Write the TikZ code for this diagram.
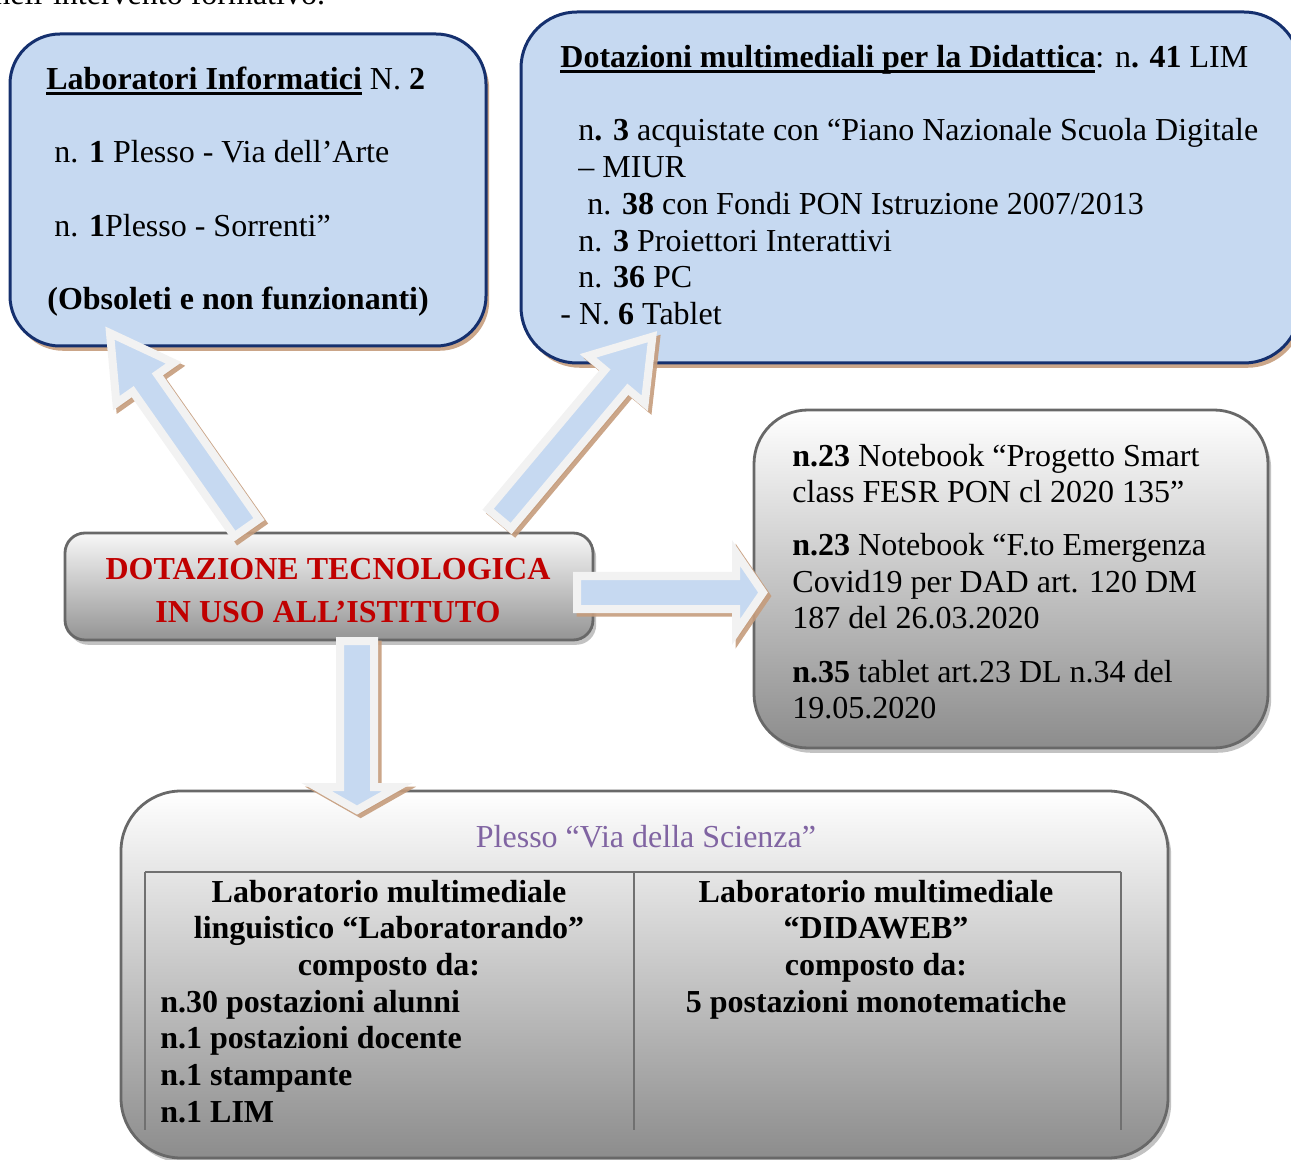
\documentclass[tikz,border=0pt]{standalone}
\usepackage{fontspec}
\setmainfont{Liberation Serif}
\usetikzlibrary{shadows,calc}

\definecolor{boxblue}{HTML}{C6D9F1}
\definecolor{navy}{HTML}{15306E}
\definecolor{tanshadow}{HTML}{C59C7C}
\definecolor{arrowrim}{HTML}{F2F2F2}
\definecolor{rimgray}{HTML}{686868}
\definecolor{titlered}{HTML}{C00000}
\definecolor{plumtext}{HTML}{8064A2}
\definecolor{greyshadow}{HTML}{9A9A9A}
\definecolor{rulegray}{HTML}{707070}

% underline that runs straight through descenders
\newcommand\undl[1]{\setbox0\hbox{#1}\rlap{\rule[-2.4pt]{\wd0}{1.2pt}}\box0\relax}

% block arrow from coordinate #1 (tail) to #2 (tip);
% #3 shaft width, #4 head width, #5 head length, all in px (0.5pt)
\newcommand\blockarrow[5]{%
  \path let \p1=(#1), \p2=(#2) in \pgfextra{%
    \pgfmathsetmacro\arrAng{atan2(\y2-\y1,\x2-\x1)}\global\let\arrAng\arrAng
    \pgfmathsetmacro\arrLen{veclen(\x2-\x1,\y2-\y1)}\global\let\arrLen\arrLen};
  \pgfmathsetmacro\arrNeck{\arrLen-0.5*#5}%
  \pgfmathsetmacro\arrShaft{0.25*#3}%
  \pgfmathsetmacro\arrHead{0.25*#4}%
  \begin{scope}[shift={(#1)}, xshift=1.8pt, yshift=-1.8pt, rotate=\arrAng]
    \path[arrshade] (0pt,-\arrShaft pt) -- (\arrNeck pt,-\arrShaft pt) -- (\arrNeck pt,-\arrHead pt)
      -- (\arrLen pt,0pt) -- (\arrNeck pt,\arrHead pt) -- (\arrNeck pt,\arrShaft pt) -- (0pt,\arrShaft pt) -- cycle;
  \end{scope}
  \begin{scope}[shift={(#1)}, rotate=\arrAng]
    \path[arrbody] (0pt,-\arrShaft pt) -- (\arrNeck pt,-\arrShaft pt) -- (\arrNeck pt,-\arrHead pt)
      -- (\arrLen pt,0pt) -- (\arrNeck pt,\arrHead pt) -- (\arrNeck pt,\arrShaft pt) -- (0pt,\arrShaft pt) -- cycle;
  \end{scope}}

\tikzset{
  bluebox/.style={draw=navy, line width=1.5pt, fill=boxblue, rounded corners=#1,
    drop shadow={shadow xshift=1.6pt, shadow yshift=-2.4pt, fill=tanshadow, opacity=.9}},
  bluebox/.default=25pt,
  greybox/.style={draw=rimgray, line width=1.4pt, top color=white, bottom color=black!45,
    rounded corners=#1,
    drop shadow={shadow xshift=1.6pt, shadow yshift=-2.4pt, fill=greyshadow, opacity=.6}},
  greybox/.default=27pt,
  arrbody/.style={fill=boxblue, draw=arrowrim, line width=4pt, line join=miter, miter limit=10},
  arrshade/.style={fill=tanshadow, draw=tanshadow, line width=4pt, line join=miter, miter limit=10, opacity=.9},
  txt/.style={inner sep=0pt, anchor=base west, font=\fontsize{16}{18.4}\selectfont},
  ctxt/.style={txt, anchor=base},
  btxt/.style={txt, font=\fontsize{16}{18.4}\selectfont\bfseries},
  cbtxt/.style={btxt, anchor=base},
  tablerule/.style={draw=rulegray, line width=1pt},
}

\begin{document}
\begin{tikzpicture}[x=0.5pt, y=-0.5pt]
\useasboundingbox (0,0) rectangle (1291,1160);
\clip (0,0) rectangle (1291,1160);

% line of running text above the diagram
\node[txt] (prev) at (-6,5) {nell’intervento formativo.};

% boxes
\node[bluebox, minimum width=238pt, minimum height=156pt] (lab) at (248,190) {};
\node[bluebox=28pt, minimum width=389.5pt, minimum height=175.5pt] (lim) at (910.5,187.5) {};
\node[greybox, minimum width=257pt, minimum height=169pt] (note) at (1011,579) {};
\node[greybox=10pt, minimum width=264pt, minimum height=53.5pt, bottom color=black!42, top color=black!3] (dot) at (329,586.5) {};
\node[greybox=30pt, minimum width=523.5pt, minimum height=183.5pt] (sci) at (644.5,974.5) {};

% computer labs
\node[txt] (lab1) at (46,90) {\undl{\textbf{Laboratori Informatici}} N. \textbf{2}};
\node[txt] (lab2) at (54,163) {n. \textbf{1} Plesso - Via dell’Arte};
\node[txt] (lab3) at (54,237) {n. \textbf{1}Plesso - Sorrenti”};
\node[btxt] (lab4) at (47,310) {(Obsoleti e non funzionanti)};

% multimedia equipment
\node[txt] (lim1) at (560,68) {\undl{\textbf{Dotazioni multimediali per la Didattica}}: n\textbf{. 41} LIM};
\node[txt] (lim2) at (578,141) {n\textbf{. 3} acquistate con “Piano Nazionale Scuola Digitale};
\node[txt] (lim3) at (578,178) {– MIUR};
\node[txt] (lim4) at (587,215) {n. \textbf{38} con Fondi PON Istruzione 2007/2013};
\node[txt] (lim5) at (578,252) {n. \textbf{3} Proiettori Interattivi};
\node[txt] (lim6) at (578,288) {n. \textbf{36} PC};
\node[txt] (lim7) at (560,325) {- N. \textbf{6} Tablet};

% notebooks and tablets
\node[txt] (nb1) at (792,467) {\textbf{n.23} Notebook “Progetto Smart};
\node[txt] (nb2) at (792,503) {class FESR PON cl 2020 135”};
\node[txt] (nb3) at (792,555) {\textbf{n.23} Notebook “F.to Emergenza};
\node[txt] (nb4) at (792,592) {Covid19 per DAD art. 120 DM};
\node[txt] (nb5) at (792,628) {187 del 26.03.2020};
\node[txt] (nb6) at (792,682) {\textbf{n.35} tablet art.23 DL n.34 del};
\node[txt] (nb7) at (792,718) {19.05.2020};

% central title
\node[cbtxt, text=titlered] (title1) at (328,580) {DOTAZIONE TECNOLOGICA};
\node[cbtxt, text=titlered] (title2) at (328,622) {IN USO ALL’ISTITUTO};

% Via della Scienza building
\node[ctxt, text=plumtext] (sci0) at (646,847) {Plesso “Via della Scienza”};
\draw[tablerule] (145,872) -- (1121,872);
\draw[tablerule] (145,872) -- (145,1130);
\draw[tablerule] (634,872) -- (634,1130);
\draw[tablerule] (1121,872) -- (1121,1130);

\node[cbtxt] (la1) at (389,902) {Laboratorio multimediale};
\node[cbtxt] (la2) at (389,938) {linguistico “Laboratorando”};
\node[cbtxt] (la3) at (389,975) {composto da:};
\node[btxt] (la4) at (160,1012) {n.30 postazioni alunni};
\node[btxt] (la5) at (160,1048) {n.1 postazioni docente};
\node[btxt] (la6) at (160,1085) {n.1 stampante};
\node[btxt] (la7) at (160,1122) {n.1 LIM};

\node[cbtxt] (lb1) at (876,902) {Laboratorio multimediale};
\node[cbtxt] (lb2) at (876,938) {“DIDAWEB”};
\node[cbtxt] (lb3) at (876,975) {composto da:};
\node[cbtxt] (lb4) at (876,1012) {5 postazioni monotematiche};

% block arrows leaving the title box
\coordinate (a1t) at (246.7,527.7);
\coordinate (a1h) at (109.7,332.7);
\coordinate (a2t) at (499.6,518.9);
\coordinate (a2h) at (652.7,336.3);
\coordinate (a3t) at (577,592.5);
\coordinate (a3h) at (763,592.5);
\coordinate (a4t) at (357,641);
\coordinate (a4h) at (357,810);

\blockarrow{a1t}{a1h}{30}{70}{61}
\blockarrow{a2t}{a2h}{30}{74}{56}
\blockarrow{a3t}{a3h}{33}{79}{27}
\blockarrow{a4t}{a4h}{34}{81}{23}
\end{tikzpicture}
\end{document}
